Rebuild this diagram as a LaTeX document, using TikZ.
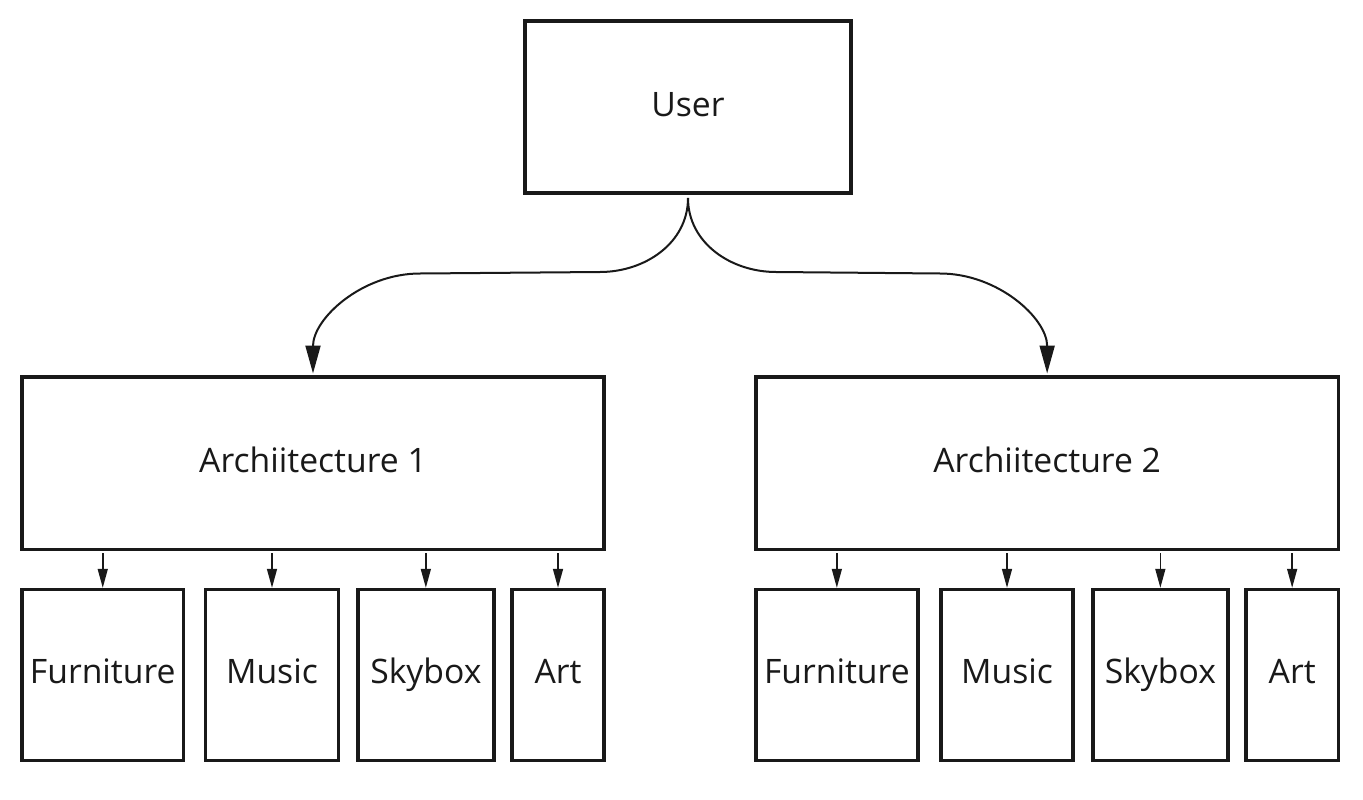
\documentclass[tikz,border=0pt]{standalone}
\usepackage{fontspec}
\setmainfont{Open Sans}
\usetikzlibrary{arrows.meta}
\begin{document}
\begin{tikzpicture}[x=1pt,y=-1pt,
  box/.style={draw=black!90, line width=3.6pt, fill=white, inner sep=0pt, outer sep=0pt,
    font=\fontsize{33.7}{40}\selectfont, text=black!90, text height=25pt, text depth=7pt},
  bigarrow/.style={draw=black!90, line width=2pt, -{Triangle[length=28pt,width=15pt]}, shorten >=3.5pt},
  smallarrow/.style={draw=black!90, line width=1.5pt, -{Triangle[length=19pt,width=10pt]}, shorten <=3.5pt, shorten >=1.5pt}]
\useasboundingbox (0,0) rectangle (1363,800);
\fill[white] (0,0) rectangle (1363,800);

% top
\node[box, minimum width=326pt, minimum height=172pt] (user) at (688,107) {User};

% architectures
\node[box, minimum width=582pt, minimum height=172.6pt] (a1) at (313,463.3) {Archiitecture 1};
\node[box, minimum width=582.3pt, minimum height=172.6pt] (a2) at (1047.15,463.3) {Archiitecture 2};

% children of a1
\node[box, minimum width=161.5pt, minimum height=171.2pt] (f1) at (102.75,674.9) {Furniture};
\node[box, minimum width=133pt, minimum height=171.2pt] (m1) at (272,674.9) {Music};
\node[box, minimum width=135.7pt, minimum height=171.2pt] (s1) at (425.85,674.9) {Skybox};
\node[box, minimum width=92pt, minimum height=171.2pt] (r1) at (558,674.9) {Art};

% children of a2
\node[box, minimum width=161.7pt, minimum height=171.2pt] (f2) at (836.85,674.9) {Furniture};
\node[box, minimum width=132pt, minimum height=171.2pt] (m2) at (1007,674.9) {Music};
\node[box, minimum width=135.3pt, minimum height=171.2pt] (s2) at (1160.35,674.9) {Skybox};
\node[box, minimum width=92.3pt, minimum height=171.2pt] (r2) at (1292.15,674.9) {Art};

% curved connectors
\coordinate (uo) at (688,198);
\coordinate (j1) at (600,272);
\coordinate (j2) at (420,273.5);
\coordinate (k1) at (776,272);
\coordinate (k2) at (940,273.5);
\draw[bigarrow] (uo) to[out=-90,in=0] (j1) -- (j2) to[out=180,in=90] (a1.north);
\draw[bigarrow] (uo) to[out=-90,in=180] (k1) -- (k2) to[out=0,in=90] (a2.north);

% small connectors
\foreach \c in {f1,m1,s1,r1}{
  \draw[smallarrow] (a1.south -| \c.north) -- (\c.north);
}
\foreach \c in {f2,m2,s2,r2}{
  \draw[smallarrow] (a2.south -| \c.north) -- (\c.north);
}
\end{tikzpicture}
\end{document}
